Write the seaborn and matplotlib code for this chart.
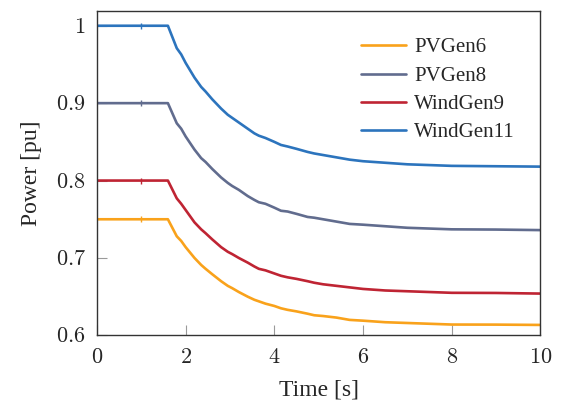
import matplotlib
matplotlib.use("Agg")
import matplotlib.pyplot as plt
import seaborn as sns
import pandas as pd

# Time axis (s)
time_s = [0.0, 1.0, 1.6, 1.8, 1.9, 2.0, 2.2, 2.35, 2.45, 2.6, 2.8, 2.95, 3.05,
          3.2, 3.4, 3.55, 3.65, 3.8, 4.0, 4.15, 4.3, 4.5, 4.75, 4.9, 5.1, 5.4,
          5.7, 6.0, 6.5, 7.0, 7.5, 8.0, 9.0, 10.0]

# Active power of each generator (pu)
wind_gen11 = [1.000, 1.000, 1.000, 0.971, 0.963, 0.952, 0.933, 0.921, 0.915, 0.905,
              0.893, 0.885, 0.881, 0.875, 0.867, 0.861, 0.858, 0.855, 0.850, 0.846,
              0.844, 0.841, 0.837, 0.835, 0.833, 0.830, 0.827, 0.825, 0.823, 0.821,
              0.820, 0.819, 0.8185, 0.818]
pv_gen8 = [0.900, 0.900, 0.900, 0.874, 0.867, 0.857, 0.840, 0.829, 0.824, 0.815,
           0.804, 0.797, 0.793, 0.788, 0.780, 0.775, 0.772, 0.770, 0.765, 0.761,
           0.760, 0.757, 0.753, 0.752, 0.750, 0.747, 0.744, 0.743, 0.741, 0.739,
           0.738, 0.737, 0.7367, 0.736]
wind_gen9 = [0.800, 0.800, 0.800, 0.777, 0.770, 0.762, 0.746, 0.737, 0.732, 0.724,
             0.714, 0.708, 0.705, 0.700, 0.694, 0.689, 0.686, 0.684, 0.680, 0.677,
             0.675, 0.673, 0.670, 0.668, 0.666, 0.664, 0.662, 0.660, 0.658, 0.657,
             0.656, 0.655, 0.6548, 0.654]
pv_gen6 = [0.750, 0.750, 0.750, 0.728, 0.722, 0.714, 0.700, 0.691, 0.686, 0.679,
           0.670, 0.664, 0.661, 0.656, 0.650, 0.646, 0.644, 0.641, 0.638, 0.635,
           0.633, 0.631, 0.628, 0.626, 0.625, 0.623, 0.620, 0.619, 0.617, 0.616,
           0.615, 0.614, 0.6139, 0.6135]

series_names = ["PVGen6", "PVGen8", "WindGen9", "WindGen11"]
series_values = [pv_gen6, pv_gen8, wind_gen9, wind_gen11]
palette = ["#F9A21B", "#616C8E", "#BF2433", "#2C74BD"]

x_ticks = [0, 2, 4, 6, 8, 10]
y_ticks = [0.6, 0.7, 0.8, 0.9, 1.0]
y_tick_labels = ["0.6", "0.7", "0.8", "0.9", "1"]

df = pd.concat(
    [pd.DataFrame({"Time": time_s, "Power": vals, "Unit": name})
     for name, vals in zip(series_names, series_values)],
    ignore_index=True,
)

sns.set_theme(style="white")
plt.rcParams["font.family"] = ["Liberation Serif", "DejaVu Serif"]
plt.rcParams["mathtext.fontset"] = "cm"

fig = plt.figure(figsize=(5.67, 4.09), dpi=100)
ax = fig.add_axes([0.171, 0.180, 0.782, 0.793])

for name, color in zip(series_names, palette):
    sub = df[df["Unit"] == name]
    sns.lineplot(data=sub, x="Time", y="Power", ax=ax, color=color,
                 linewidth=1.9, label=name, marker="|", markevery=[1],
                 markersize=4, markeredgewidth=1.0,
                 markeredgecolor=color, markerfacecolor=color)

ax.set_xlim(0, 10)
ax.set_ylim(0.6, 1.019)
ax.set_xticks(x_ticks)
ax.set_xticklabels([f"${v}$" for v in x_ticks])
ax.set_yticks(y_ticks)
ax.set_yticklabels([f"${s}$" for s in y_tick_labels])
ax.tick_params(axis="both", direction="in", length=7, width=0.8,
               color="#9a9a9a", labelsize=16,
               bottom=True, left=True, top=False, right=False)
ax.tick_params(axis="x", pad=10)
ax.tick_params(axis="y", pad=8)
for s in ax.spines.values():
    s.set_color("#333333")
    s.set_linewidth(1.0)

ax.set_xlabel("Time [s]", fontsize=17, labelpad=8)
ax.set_ylabel("Power [pu]", fontsize=17, labelpad=10)

leg = ax.legend(loc="upper right", frameon=False, fontsize=15,
                handlelength=2.15, handletextpad=0.4, labelspacing=0.42,
                bbox_to_anchor=(0.985, 0.975))
for line in leg.get_lines():
    line.set_marker("")

fig.savefig("out.png", dpi=100)
